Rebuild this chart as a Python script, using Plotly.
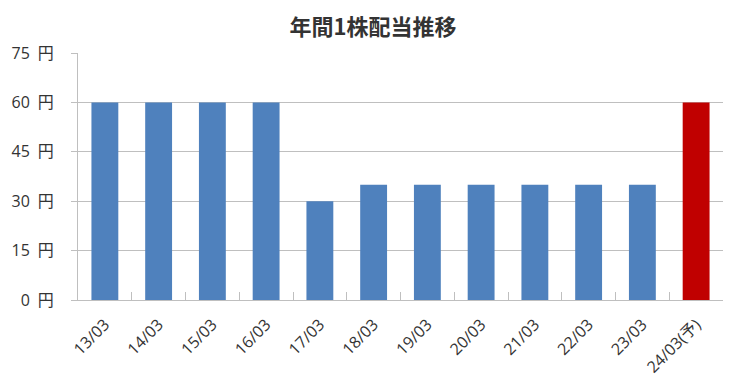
import plotly.graph_objects as go

categories = ["13/03", "14/03", "15/03", "16/03", "17/03", "18/03", "19/03",
              "20/03", "21/03", "22/03", "23/03", "24/03(予)"]
dividends = [60, 60, 60, 60, 30, 35, 35, 35, 35, 35, 35, 60]
bar_colors = ["#4F81BD"] * 11 + ["#C00000"]
y_tickvals = [0, 15, 30, 45, 60, 75]
y_ticktext = ["0\u2002円", "15\u2002円", "30\u2002円", "45\u2002円", "60\u2002円", "75\u2002円"]

font_family = "Open Sans, Noto Sans CJK JP, sans-serif"
title_family = "Noto Sans CJK JP, sans-serif"

fig = go.Figure(go.Bar(x=categories, y=dividends, marker_color=bar_colors,
                       marker_line_width=0))

fig.update_layout(
    width=746, height=389,
    margin=dict(l=78, r=23, t=53, b=89),
    paper_bgcolor="white", plot_bgcolor="white",
    bargap=0.5,
    showlegend=False,
    title=dict(text="<b>年間1株配当推移</b>", x=0.5, xanchor="center",
               y=0.93, yanchor="middle",
               font=dict(family=title_family, size=22, color="#333333")),
    font=dict(family=font_family, color="#333333"),
)
fig.update_xaxes(
    type="category", tickangle=-45, tickson="boundaries", ticks="inside",
    ticklen=8, tickcolor="#BFBFBF", showline=True, linecolor="#BFBFBF",
    linewidth=1, showgrid=False, tickfont=dict(size=16, color="#333333"),
    ticklabelstandoff=8,
)
fig.update_yaxes(
    range=[0, 75], tickvals=y_tickvals, ticktext=y_ticktext,
    ticks="outside", ticklen=6, tickcolor="#BFBFBF",
    showline=True, linecolor="#BFBFBF", linewidth=1,
    showgrid=True, gridcolor="#BFBFBF", gridwidth=1, zeroline=False,
    tickfont=dict(size=16, color="#333333"), ticklabelstandoff=14,
)

fig.write_html("out.html")
